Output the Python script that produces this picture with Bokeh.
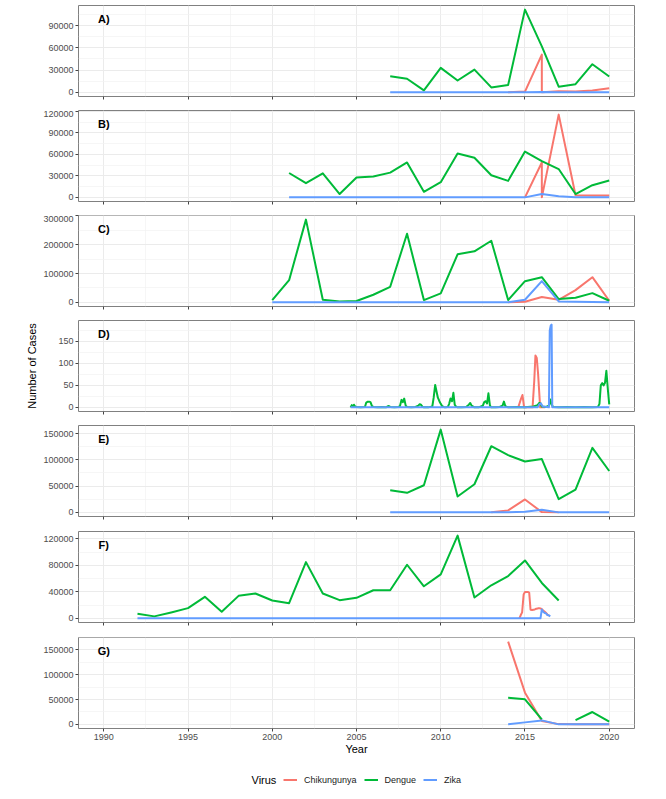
import numpy as np
from bokeh.plotting import figure
from bokeh.models import (Range1d, FixedTicker, Label, Legend, LegendItem,
                          NumeralTickFormatter)
from bokeh.layouts import column
from bokeh.embed import file_html
from bokeh.resources import INLINE

RED = "#F8766D"
GREEN = "#00BA38"
BLUE = "#619CFF"
FONT = "Liberation Sans"
NAN = float("nan")

x_ticks = [1990, 1995, 2000, 2005, 2010, 2015, 2020]
x_minor = [1992.5, 1997.5, 2002.5, 2007.5, 2012.5, 2017.5]

# ---------------- Panel A ----------------
a_chik_x = [2014, 2015, 2016, 2016, 2017, 2018, 2019, 2020]
a_chik_y = [0, 1000, 50800, 0, 1500, 1000, 2500, 5500]
a_deng_x = [2007, 2008, 2009, 2010, 2011, 2012, 2013, 2014, 2015, 2016, 2017, 2018, 2019, 2020]
a_deng_y = [21800, 18300, 2700, 33000, 16000, 30700, 6700, 9800, 111400, 62000, 7600, 11000, 37900, 21400]
a_zika_x = [2007, 2008, 2009, 2010, 2011, 2012, 2013, 2014, 2015, 2016, 2017, 2018, 2019, 2020]
a_zika_y = [0, 0, 0, 0, 0, 0, 0, 0, 0, 500, 0, 0, 0, 0]
a_yticks = [0, 30000, 60000, 90000]

# ---------------- Panel B ----------------
b_chik_x = [2015, 2016, 2016, 2017, 2018, 2019, 2020]
b_chik_y = [0, 48700, 0, 115400, 3000, 2500, 2500]
b_deng_x = [2001, 2002, 2003, 2004, 2005, 2006, 2007, 2008, 2009, 2010, 2011, 2012, 2013, 2014,
            2015, 2016, 2017, 2018, 2019, 2020]
b_deng_y = [34000, 19800, 33600, 4600, 27600, 29000, 34500, 48700, 7800, 21100, 61100, 55200,
            30800, 23000, 63900, 50600, 39500, 4600, 17000, 23500]
b_zika_x = [2001, 2002, 2003, 2004, 2005, 2006, 2007, 2008, 2009, 2010, 2011, 2012, 2013, 2014,
            2015, 2016, 2017, 2018, 2019, 2020]
b_zika_y = [0, 0, 0, 0, 0, 0, 0, 0, 0, 0, 0, 0, 0, 0, 0, 4600, 1500, 0, 0, 0]
b_yticks = [0, 30000, 60000, 90000, 120000]

# ---------------- Panel C ----------------
c_chik_x = [2014, 2015, 2016, 2017, 2018, 2019, 2020]
c_chik_y = [0, 2000, 18400, 9000, 42500, 87300, 5700]
c_deng_x = [2000, 2001, 2002, 2003, 2004, 2005, 2006, 2007, 2008, 2009, 2010, 2011, 2012, 2013,
            2014, 2015, 2016, 2017, 2018, 2019, 2020]
c_deng_y = [8000, 77000, 287000, 9200, 3400, 4600, 26400, 54000, 237800, 8000, 31000, 166600,
            177000, 213700, 8000, 73500, 87300, 11500, 16000, 32000, 5700]
c_zika_x = [2000, 2001, 2002, 2003, 2004, 2005, 2006, 2007, 2008, 2009, 2010, 2011, 2012, 2013,
            2014, 2015, 2016, 2017, 2018, 2019, 2020]
c_zika_y = [0, 0, 0, 0, 0, 0, 0, 0, 0, 0, 0, 0, 0, 0, 0, 9000, 73500, 3400, 2000, 1000, 0]
c_yticks = [0, 100000, 200000, 300000]

# ---------------- Panel D (sub-annual) ----------------
d_chik_x = [2014.6, 2014.75, 2014.85, 2014.95, 2015.45, 2015.55, 2015.62, 2015.7, 2015.78,
            2015.9, 2016.2]
d_chik_y = [0, 18, 28, 0, 0, 60, 118, 112, 75, 0, 0]
d_deng_x = [2004.65, 2004.72, 2004.78, 2004.85, 2004.92, 2005.0, 2005.25, 2005.5, 2005.58,
            2005.67, 2005.75, 2005.83, 2005.92, 2006.0, 2006.25, 2006.5, 2006.75, 2006.83,
            2006.92, 2007.0, 2007.25, 2007.5, 2007.58, 2007.67, 2007.75, 2007.83, 2007.92,
            2008.0, 2008.25, 2008.5, 2008.67, 2008.75, 2008.83, 2008.92, 2009.0, 2009.25,
            2009.5, 2009.58, 2009.67, 2009.75, 2009.83, 2009.92, 2010.0, 2010.08, 2010.17,
            2010.25, 2010.42, 2010.5, 2010.58, 2010.67, 2010.75, 2010.83, 2010.92, 2011.0,
            2011.25, 2011.5, 2011.67, 2011.75, 2011.83, 2012.0, 2012.25, 2012.5, 2012.58,
            2012.67, 2012.75, 2012.83, 2012.92, 2013.0, 2013.25, 2013.5, 2013.67, 2013.75,
            2013.83, 2014.0, 2014.5, 2015.0, 2015.5, 2015.75, 2015.85, 2015.92, 2016.0,
            2016.25, 2016.42, 2016.5, 2016.58, 2016.67, 2017.0, 2017.5, 2018.0, 2018.5,
            2019.0, 2019.33, 2019.42, 2019.5, 2019.58, 2019.67, 2019.75, 2019.83, 2019.92,
            2020.0]
d_deng_y = [0, 5, 1, 6, 2, 1, 0, 1, 11,
            13, 13, 12, 3, 1, 0, 1, 0, 2,
            3, 1, 0, 1, 3, 17, 12, 20, 4,
            1, 0, 1, 4, 7, 6, 1, 0, 0,
            2, 22, 51, 36, 22, 14, 8, 3, 1,
            0, 1, 8, 20, 14, 33, 6, 1, 0,
            0, 1, 6, 10, 4, 0, 0, 4, 12,
            14, 9, 32, 4, 0, 0, 1, 4, 13,
            3, 0, 1, 0, 2, 5, 10, 9, 2,
            1, 4, 18, 6, 1, 0, 1, 0, 1,
            0, 1, 8, 50, 55, 50, 56, 83, 40,
            7]
d_zika_x = [2004.65, 2006, 2008, 2010, 2012, 2014, 2015.75, 2015.85, 2015.95, 2016.05,
            2016.42, 2016.47, 2016.53, 2016.58, 2016.62, 2016.75, 2017, 2018, 2019, 2020]
d_zika_y = [0, 0, 0, 0, 0, 0, 0, 7, 9, 2, 0, 175, 186, 188, 0, 0, 0, 0, 0, 0]
d_yticks = [0, 50, 100, 150]

# ---------------- Panel E ----------------
e_chik_x = [2013, 2014, 2015, 2016, 2017]
e_chik_y = [0, 3800, 24600, 500, 0]
e_deng_x = [2007, 2008, 2009, 2010, 2011, 2012, 2013, 2014, 2015, 2016, 2017, 2018, 2019, 2020]
e_deng_y = [42200, 37200, 51700, 157600, 30300, 53600, 126000, 109000, 97000, 101500, 25200,
            43500, 122900, 78800]
e_zika_x = [2007, 2008, 2009, 2010, 2011, 2012, 2013, 2014, 2015, 2016, 2017, 2018, 2019, 2020]
e_zika_y = [0, 0, 0, 0, 0, 0, 0, 0, 1000, 5000, 0, 0, 0, 0]
e_yticks = [0, 50000, 100000, 150000]

# ---------------- Panel F ----------------
f_chik_x = [2014.67, 2014.75, 2014.83, 2014.92, 2015.0, 2015.08, 2015.17, 2015.25, 2015.33,
            2015.42, 2015.5, 2015.58, 2015.67, 2015.75, 2015.83, 2015.92, 2016.0, 2016.08,
            2016.17, 2016.25, 2016.33, 2016.42]
f_chik_y = [0, 5000, 9000, 36000, 40000, 40000, 40000, 39000, 13000, 12500, 13000, 13500,
            14500, 15000, 15500, 15000, 14000, 12000, 10000, 8000, 6000, 4000]
f_deng_x = [1992, 1993, 1994, 1995, 1996, 1997, 1998, 1999, 2000, 2001, 2002, 2003, 2004,
            2005, 2006, 2007, 2008, 2009, 2010, 2011, 2012, 2013, 2014, 2015, 2016, 2017]
f_deng_y = [7000, 3000, 9000, 15500, 32500, 10000, 34000, 37500, 27000, 23000, 85000, 37500,
            27500, 31000, 42500, 42500, 81000, 48500, 66500, 125000, 31500, 50000, 64000,
            87500, 53500, 27000]
f_zika_x = [1992, 1993, 1994, 1995, 1996, 1997, 1998, 1999, 2000, 2001, 2002, 2003, 2004,
            2005, 2006, 2007, 2008, 2009, 2010, 2011, 2012, 2013, 2014, 2015, 2015.92,
            2016.0, 2016.08, 2016.17, 2016.25, 2016.33, 2016.42, 2016.5]
f_zika_y = [0, 0, 0, 0, 0, 0, 0, 0, 0, 0, 0, 0, 0,
            0, 0, 0, 0, 0, 0, 0, 0, 0, 0, 0, 0,
            13500, 10000, 8000, 7500, 5000, 4500, 3000]
f_yticks = [0, 40000, 80000, 120000]

# ---------------- Panel G ----------------
g_chik_x = [2014, 2015, 2016, 2017, 2018, 2019, 2020]
g_chik_y = [166800, 63900, 6700, 500, 0, 0, 0]
g_deng_x = [2014, 2015, 2016, 2017, 2018, 2019, 2020]
g_deng_y = [53800, 50400, 10000, NAN, 8700, 24900, 5400]
g_zika_x = [2014, 2015, 2016, 2017, 2018, 2019, 2020]
g_zika_y = [0, 4000, 8000, 0, 0, 0, 0]
g_yticks = [0, 50000, 100000, 150000]

panels = [
    ("A", (a_chik_x, a_chik_y), (a_deng_x, a_deng_y), (a_zika_x, a_zika_y), a_yticks),
    ("B", (b_chik_x, b_chik_y), (b_deng_x, b_deng_y), (b_zika_x, b_zika_y), b_yticks),
    ("C", (c_chik_x, c_chik_y), (c_deng_x, c_deng_y), (c_zika_x, c_zika_y), c_yticks),
    ("D", (d_chik_x, d_chik_y), (d_deng_x, d_deng_y), (d_zika_x, d_zika_y), d_yticks),
    ("E", (e_chik_x, e_chik_y), (e_deng_x, e_deng_y), (e_zika_x, e_zika_y), e_yticks),
    ("F", (f_chik_x, f_chik_y), (f_deng_x, f_deng_y), (f_zika_x, f_zika_y), f_yticks),
    ("G", (g_chik_x, g_chik_y), (g_deng_x, g_deng_y), (g_zika_x, g_zika_y), g_yticks),
]

FRAME_W = 556
BORDER_L = 78
BORDER_R = 14
FIG_W = BORDER_L + FRAME_W + BORDER_R
FRAME_H = 91
tops = [5, 0, 0, 0, 0, 0, 0]
bottoms = [14, 14, 14, 14, 15, 15, 35]

figs = []
for i, (letter, chik, deng, zika, yticks) in enumerate(panels):
    last = (i == len(panels) - 1)
    ally = np.array(chik[1] + deng[1] + zika[1], dtype=float)
    lo, hi = np.nanmin(ally), np.nanmax(ally)
    pad = 0.05 * (hi - lo)
    y0, y1 = lo - pad, hi + pad
    p = figure(width=FIG_W, height=tops[i] + FRAME_H + bottoms[i],
               x_range=Range1d(1988.5, 2021.5), y_range=Range1d(y0, y1),
               output_backend="svg", toolbar_location=None,
               min_border_left=BORDER_L, min_border_right=BORDER_R,
               min_border_top=tops[i], min_border_bottom=bottoms[i])
    p.background_fill_color = "white"
    p.border_fill_color = "white"
    p.outline_line_color = "#808080"
    p.outline_line_width = 1

    ystep = yticks[1] - yticks[0]
    yminor = [t + ystep / 2 for t in [yticks[0] - ystep] + yticks]
    p.yaxis.ticker = FixedTicker(ticks=yticks, minor_ticks=yminor)
    p.xaxis.ticker = FixedTicker(ticks=x_ticks, minor_ticks=x_minor)
    p.yaxis.formatter = NumeralTickFormatter(format="0")

    for ax in (p.xaxis, p.yaxis):
        ax.axis_line_color = None
        ax.major_tick_line_color = "#444444"
        ax.major_tick_in = 0
        ax.major_tick_out = 3
        ax.minor_tick_in = 0
        ax.minor_tick_out = 0
        ax.major_label_text_font = FONT
        ax.major_label_text_font_size = "9px"
        ax.major_label_text_color = "#4D4D4D"
        ax.axis_label_text_font = FONT
        ax.axis_label_text_font_size = "11px"
        ax.axis_label_text_font_style = "normal"
        ax.axis_label_text_color = "#000000"
    p.yaxis.major_label_standoff = 2
    p.xaxis.major_label_standoff = 2

    if last:
        p.xaxis.axis_label = "Year"
        p.xaxis.axis_label_standoff = 0
    else:
        p.xaxis.major_label_overrides = {t: "" for t in x_ticks}
        p.xaxis.major_label_text_font_size = "0px"
        p.xaxis.major_label_standoff = 0
    if letter == "D":
        p.yaxis.axis_label = "Number of Cases"
        p.yaxis.axis_label_standoff = 17

    for g in (p.xgrid, p.ygrid):
        g.grid_line_color = "#EBEBEB"
        g.grid_line_width = 1
        g.minor_grid_line_color = "#F2F2F2"
        g.minor_grid_line_width = 0.7

    for (xs, ys), col in ((chik, RED), (deng, GREEN), (zika, BLUE)):
        p.line(x=xs, y=ys, line_color=col, line_width=2, line_join="round")

    p.add_layout(Label(x=1990, y=y1 - 13 * (y1 - y0) / FRAME_H, text=letter + ")",
                       text_align="center", text_baseline="middle",
                       text_font=FONT, text_font_size="11px", text_font_style="bold",
                       text_color="#000000"))
    figs.append(p)

# ---------------- Legend ----------------
LEG_H = 32
pl = figure(width=FIG_W, height=LEG_H, x_range=Range1d(0, FRAME_W), y_range=Range1d(0, LEG_H),
            output_backend="svg", toolbar_location=None,
            min_border_left=BORDER_L, min_border_right=BORDER_R,
            min_border_top=0, min_border_bottom=0,
            x_axis_location=None, y_axis_location=None)
pl.outline_line_color = None
pl.grid.visible = False
virus_names = ["Chikungunya", "Dengue", "Zika"]
virus_colors = [RED, GREEN, BLUE]
items = []
for name, col in zip(virus_names, virus_colors):
    r = pl.line(x=[NAN], y=[NAN], line_color=col, line_width=2)
    items.append(LegendItem(label=name, renderers=[r]))
legend = Legend(items=items, orientation="horizontal", location=(205, 10),
                padding=0, margin=0, spacing=7, label_standoff=7,
                glyph_width=14, glyph_height=11, label_height=11,
                label_text_font=FONT, label_text_font_size="9px",
                label_text_color="#1A1A1A", border_line_color=None,
                background_fill_alpha=0)
pl.add_layout(legend)
pl.add_layout(Label(x=173, y=16, text="Virus", text_baseline="middle",
                    text_font=FONT, text_font_size="11px", text_color="#000000"))

layout = column(*figs, pl)

open("out.html", "w").write(file_html(layout, INLINE))
